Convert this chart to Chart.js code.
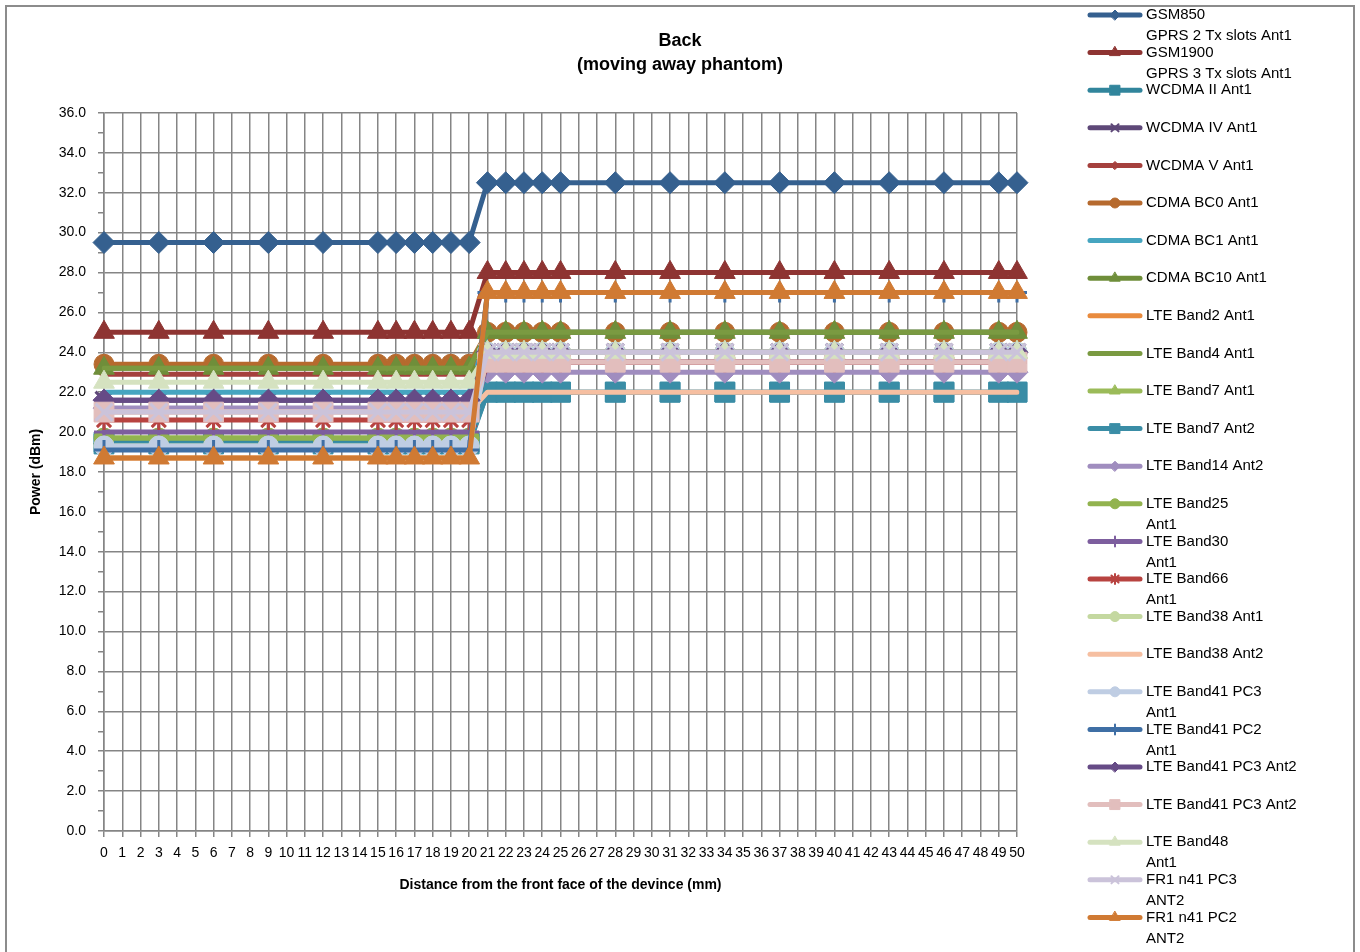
<!DOCTYPE html>
<html>
<head>
<meta charset="utf-8">
<script src="https://cdn.jsdelivr.net/npm/chart.js@4.4.1/dist/chart.umd.min.js"></script>
<style>
html,body{margin:0;padding:0;background:#fff;}
#wrap{width:1360px;height:952px;position:relative;overflow:hidden;}
</style>
</head>
<body>
<div id="wrap"><canvas id="c" width="1360" height="952"></canvas></div>
<script>
// ---- tick labels (x categories, mm) ----
const categories = ['0','1','2','3','4','5','6','7','8','9','10','11','12','13','14','15','16','17','18','19','20',
  '21','22','23','24','25','26','27','28','29','30','31','32','33','34','35','36','37','38','39','40',
  '41','42','43','44','45','46','47','48','49','50'];
// ---- measured distances (mm) ----
const distances = [0,3,6,9,12,15,16,17,18,19,20,21,22,23,24,25,28,31,34,37,40,43,46,49,50];

// ---- series values (dBm), one per measured distance ----
const gsm850      = [29.5,29.5,29.5,29.5,29.5,29.5,29.5,29.5,29.5,29.5,29.5,32.5,32.5,32.5,32.5,32.5,32.5,32.5,32.5,32.5,32.5,32.5,32.5,32.5,32.5];
const gsm1900     = [25.0,25.0,25.0,25.0,25.0,25.0,25.0,25.0,25.0,25.0,25.0,28.0,28.0,28.0,28.0,28.0,28.0,28.0,28.0,28.0,28.0,28.0,28.0,28.0,28.0];
const wcdma2      = [19.5,19.5,19.5,19.5,19.5,19.5,19.5,19.5,19.5,19.5,19.5,22.0,22.0,22.0,22.0,22.0,22.0,22.0,22.0,22.0,22.0,22.0,22.0,22.0,22.0];
const wcdma4      = [21.6,21.6,21.6,21.6,21.6,21.6,21.6,21.6,21.6,21.6,21.6,24.0,24.0,24.0,24.0,24.0,24.0,24.0,24.0,24.0,24.0,24.0,24.0,24.0,24.0];
const wcdma5      = [22.9,22.9,22.9,22.9,22.9,22.9,22.9,22.9,22.9,22.9,22.9,23.5,23.5,23.5,23.5,23.5,23.5,23.5,23.5,23.5,23.5,23.5,23.5,23.5,23.5];
const cdmaBC0     = [23.4,23.4,23.4,23.4,23.4,23.4,23.4,23.4,23.4,23.4,23.4,25.0,25.0,25.0,25.0,25.0,25.0,25.0,25.0,25.0,25.0,25.0,25.0,25.0,25.0];
const cdmaBC1     = [22.0,22.0,22.0,22.0,22.0,22.0,22.0,22.0,22.0,22.0,22.0,25.0,25.0,25.0,25.0,25.0,25.0,25.0,25.0,25.0,25.0,25.0,25.0,25.0,25.0];
const cdmaBC10    = [23.2,23.2,23.2,23.2,23.2,23.2,23.2,23.2,23.2,23.2,23.2,25.0,25.0,25.0,25.0,25.0,25.0,25.0,25.0,25.0,25.0,25.0,25.0,25.0,25.0];
const lteB2       = [18.7,18.7,18.7,18.7,18.7,18.7,18.7,18.7,18.7,18.7,18.7,27.0,27.0,27.0,27.0,27.0,27.0,27.0,27.0,27.0,27.0,27.0,27.0,27.0,27.0];
const lteB4       = [23.2,23.2,23.2,23.2,23.2,23.2,23.2,23.2,23.2,23.2,23.2,25.0,25.0,25.0,25.0,25.0,25.0,25.0,25.0,25.0,25.0,25.0,25.0,25.0,25.0];
const lteB7a1     = [19.7,19.7,19.7,19.7,19.7,19.7,19.7,19.7,19.7,19.7,19.7,24.0,24.0,24.0,24.0,24.0,24.0,24.0,24.0,24.0,24.0,24.0,24.0,24.0,24.0];
const lteB7a2     = [19.4,19.4,19.4,19.4,19.4,19.4,19.4,19.4,19.4,19.4,19.4,22.0,22.0,22.0,22.0,22.0,22.0,22.0,22.0,22.0,22.0,22.0,22.0,22.0,22.0];
const lteB14      = [21.2,21.2,21.2,21.2,21.2,21.2,21.2,21.2,21.2,21.2,21.2,23.0,23.0,23.0,23.0,23.0,23.0,23.0,23.0,23.0,23.0,23.0,23.0,23.0,23.0];
const lteB25      = [19.7,19.7,19.7,19.7,19.7,19.7,19.7,19.7,19.7,19.7,19.7,24.0,24.0,24.0,24.0,24.0,24.0,24.0,24.0,24.0,24.0,24.0,24.0,24.0,24.0];
const lteB30      = [20.0,20.0,20.0,20.0,20.0,20.0,20.0,20.0,20.0,20.0,20.0,23.5,23.5,23.5,23.5,23.5,23.5,23.5,23.5,23.5,23.5,23.5,23.5,23.5,23.5];
const lteB66      = [20.6,20.6,20.6,20.6,20.6,20.6,20.6,20.6,20.6,20.6,20.6,23.5,23.5,23.5,23.5,23.5,23.5,23.5,23.5,23.5,23.5,23.5,23.5,23.5,23.5];
const lteB38a1    = [19.3,19.3,19.3,19.3,19.3,19.3,19.3,19.3,19.3,19.3,19.3,24.0,24.0,24.0,24.0,24.0,24.0,24.0,24.0,24.0,24.0,24.0,24.0,24.0,24.0];
const lteB38a2    = [21.0,21.0,21.0,21.0,21.0,21.0,21.0,21.0,21.0,21.0,21.0,22.0,22.0,22.0,22.0,22.0,22.0,22.0,22.0,22.0,22.0,22.0,22.0,22.0,22.0];
const lteB41pc3a1 = [19.3,19.3,19.3,19.3,19.3,19.3,19.3,19.3,19.3,19.3,19.3,24.0,24.0,24.0,24.0,24.0,24.0,24.0,24.0,24.0,24.0,24.0,24.0,24.0,24.0];
const lteB41pc2a1 = [19.1,19.1,19.1,19.1,19.1,19.1,19.1,19.1,19.1,19.1,19.1,27.0,27.0,27.0,27.0,27.0,27.0,27.0,27.0,27.0,27.0,27.0,27.0,27.0,27.0];
const lteB41pc3a2 = [21.6,21.6,21.6,21.6,21.6,21.6,21.6,21.6,21.6,21.6,21.6,24.0,24.0,24.0,24.0,24.0,24.0,24.0,24.0,24.0,24.0,24.0,24.0,24.0,24.0];
const lteB41pc3a2b= [21.0,21.0,21.0,21.0,21.0,21.0,21.0,21.0,21.0,21.0,21.0,23.5,23.5,23.5,23.5,23.5,23.5,23.5,23.5,23.5,23.5,23.5,23.5,23.5,23.5];
const lteB48      = [22.5,22.5,22.5,22.5,22.5,22.5,22.5,22.5,22.5,22.5,22.5,24.0,24.0,24.0,24.0,24.0,24.0,24.0,24.0,24.0,24.0,24.0,24.0,24.0,24.0];
const fr1n41pc3   = [21.0,21.0,21.0,21.0,21.0,21.0,21.0,21.0,21.0,21.0,21.0,24.0,24.0,24.0,24.0,24.0,24.0,24.0,24.0,24.0,24.0,24.0,24.0,24.0,24.0];
const fr1n41pc2   = [18.7,18.7,18.7,18.7,18.7,18.7,18.7,18.7,18.7,18.7,18.7,27.0,27.0,27.0,27.0,27.0,27.0,27.0,27.0,27.0,27.0,27.0,27.0,27.0,27.0];

// ---- series names (legend, \n = line break as in the picture) ----
const seriesNames = [
  'GSM850\nGPRS 2 Tx slots Ant1','GSM1900\nGPRS 3 Tx slots Ant1','WCDMA II Ant1','WCDMA IV Ant1','WCDMA V Ant1',
  'CDMA BC0 Ant1','CDMA BC1 Ant1','CDMA BC10 Ant1','LTE Band2 Ant1','LTE Band4 Ant1',
  'LTE Band7 Ant1','LTE Band7 Ant2','LTE Band14 Ant2','LTE Band25\nAnt1','LTE Band30\nAnt1',
  'LTE Band66\nAnt1','LTE Band38 Ant1','LTE Band38 Ant2','LTE Band41 PC3\nAnt1','LTE Band41 PC2\nAnt1',
  'LTE Band41 PC3 Ant2','LTE Band41 PC3 Ant2','LTE Band48\nAnt1','FR1 n41 PC3\nANT2','FR1 n41 PC2\nANT2'
];
const seriesValues = [gsm850,gsm1900,wcdma2,wcdma4,wcdma5,cdmaBC0,cdmaBC1,cdmaBC10,lteB2,lteB4,
  lteB7a1,lteB7a2,lteB14,lteB25,lteB30,lteB66,lteB38a1,lteB38a2,lteB41pc3a1,lteB41pc2a1,
  lteB41pc3a2,lteB41pc3a2b,lteB48,fr1n41pc3,fr1n41pc2];

// ---- styles ----
const seriesColors = ['#35608F','#8E3432','#31859C','#5E4878','#A5403D',
  '#B66A2E','#46A5C0','#6F8E3A','#E98B3E','#7A9A41',
  '#9BBB59','#3A8DA6','#A08DBF','#92B34F','#7D5E9E',
  '#B84340','#C4D8A0','#F6BFA1','#BFCDE3','#3F6FA5',
  '#664B86','#E2BEBD','#D5E2C0','#CBC3DA','#D07A33'];
const seriesMarkers = ['rectRot','triangle','rect','crossRot','rectRot',
  'circle',null,'triangle',null,null,
  'triangle','rect','rectRot','circle','cross',
  'star','circle',null,'circle','cross',
  'rectRot','rect','triangle','crossRot','triangle'];
const markerRadius = {rectRot:11, triangle:12, rect:14, crossRot:12, circle:10, cross:10, star:10};
const legendRadius = {rectRot:5, triangle:6, rect:7, crossRot:5, circle:5, cross:5, star:5};
const smallMarker = [4]; // WCDMA V uses a small marker

const FONT = "'Liberation Sans', Arial, sans-serif";
const GRID = '#858585';

function toCategoryData(values){
  const out = categories.map(() => null);
  distances.forEach((d, k) => { out[categories.indexOf(String(d))] = values[k]; });
  return out;
}

const N = seriesValues.length;
const datasets = seriesValues.map((vals, i) => {
  const m = seriesMarkers[i];
  const stroked = (m === 'crossRot' || m === 'cross' || m === 'star');
  let r = m ? markerRadius[m] : 0;
  if (smallMarker.includes(i)) r = 5;
  return {
    label: seriesNames[i].replace('\n', ' '),
    data: toCategoryData(vals),
    borderColor: seriesColors[i],
    backgroundColor: seriesColors[i],
    borderWidth: 5,
    borderCapStyle: 'round',
    borderJoinStyle: 'round',
    pointStyle: m || 'circle',
    pointRadius: r,
    pointHoverRadius: r,
    pointBackgroundColor: seriesColors[i],
    pointBorderColor: seriesColors[i],
    pointBorderWidth: stroked ? 3 : 1,
    spanGaps: true,
    tension: 0,
    fill: false,
    order: N - i
  };
});

const extras = {
  id: 'extras',
  afterDraw(chart) {
    const ctx = chart.ctx;
    ctx.save();
    // outer frame
    ctx.strokeStyle = '#8c8c8c';
    ctx.lineWidth = 2;
    ctx.strokeRect(6, 6, 1348, 1000);
    // legend
    ctx.font = '15px ' + FONT;
    ctx.textBaseline = 'middle';
    ctx.textAlign = 'left';
    chart.data.datasets.forEach((ds, i) => {
      const y = 15 + i * 37.6;
      ctx.strokeStyle = ds.borderColor;
      ctx.lineWidth = 5;
      ctx.lineCap = 'round';
      ctx.beginPath();
      ctx.moveTo(1090, y);
      ctx.lineTo(1140, y);
      ctx.stroke();
      const m = seriesMarkers[i];
      if (m && Chart.helpers && Chart.helpers.drawPoint) {
        ctx.fillStyle = ds.borderColor;
        ctx.strokeStyle = ds.borderColor;
        const stroked = (m === 'crossRot' || m === 'cross' || m === 'star');
        ctx.lineWidth = stroked ? 2 : 1;
        Chart.helpers.drawPoint(ctx, {pointStyle: m, radius: smallMarker.includes(i) ? 4 : legendRadius[m], rotation: 0, borderWidth: ctx.lineWidth}, 1115, y);
      }
      ctx.fillStyle = '#000';
      seriesNames[i].split('\n').forEach((t, k) => ctx.fillText(t, 1146, y + k * 21));
    });
    ctx.restore();
  }
};

new Chart(document.getElementById('c'), {
  type: 'line',
  data: { labels: categories, datasets: datasets },
  plugins: [extras],
  options: {
    responsive: false,
    animation: false,
    devicePixelRatio: 1,
    layout: { padding: { left: 0, right: 0, top: 0, bottom: 54 } },
    plugins: {
      legend: { display: false },
      tooltip: { enabled: false },
      title: {
        display: true,
        text: ['Back', '(moving away phantom)'],
        color: '#000',
        font: { family: FONT, size: 18, weight: 'bold', lineHeight: 1.33 },
        padding: { top: 29, bottom: 36 }
      }
    },
    scales: {
      x: {
        type: 'category',
        offset: false,
        grid: { color: GRID, lineWidth: 1.5, tickLength: 6, tickColor: GRID, offset: false },
        border: { color: GRID, width: 1.5 },
        ticks: { autoSkip: false, maxRotation: 0, minRotation: 0, padding: 8, color: '#000', font: { family: FONT, size: 14 } },
        title: { display: true, text: 'Distance from the front face of the devince (mm)', color: '#000',
                 font: { family: FONT, size: 14, weight: 'bold' }, padding: { top: 4, bottom: 4 } },
        afterFit(s) { s.height = 67; }
      },
      y: {
        type: 'linear',
        position: 'left',
        min: 0, max: 36,
        grid: {
          color: (c) => (c.tick && Math.round(c.tick.value) % 2 !== 0) ? 'rgba(0,0,0,0)' : GRID,
          lineWidth: 1.5, tickLength: 6, tickColor: GRID
        },
        border: { color: GRID, width: 1.5 },
        ticks: {
          stepSize: 1, autoSkip: false, padding: 12, color: '#000',
          font: { family: FONT, size: 14 },
          callback: (v) => (Math.round(v) % 2 === 0 ? Number(v).toFixed(1) : '')
        },
        title: { display: true, text: 'Power (dBm)', color: '#000',
                 font: { family: FONT, size: 14, weight: 'bold' }, padding: { top: 28, bottom: 4 } },
        afterFit(s) { s.width = 104; }
      },
      legendSpace: {
        type: 'linear',
        position: 'right',
        display: true,
        grid: { display: false, drawTicks: false },
        border: { display: false },
        ticks: { display: false },
        afterFit(s) { s.width = 343; }
      }
    }
  }
});
</script>
</body>
</html>
